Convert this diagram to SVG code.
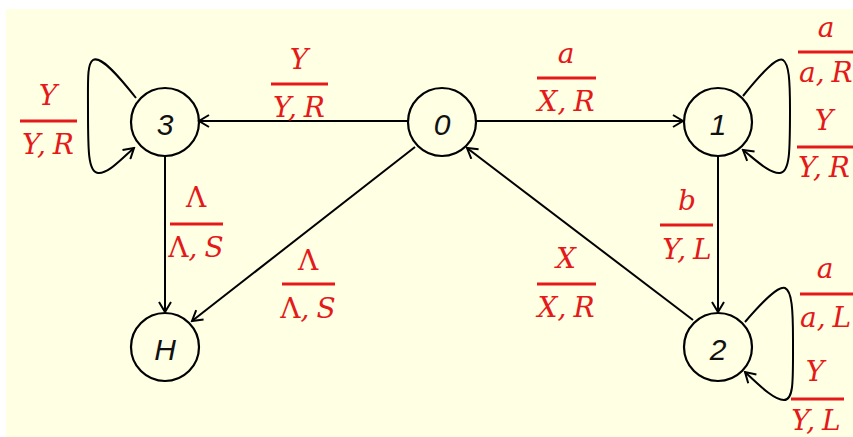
<svg xmlns="http://www.w3.org/2000/svg" width="853" height="437" viewBox="0 0 853 437">
<style>
.node circle{fill:none;stroke:#000;stroke-width:2.2}
.node text{font-family:"Liberation Sans",Arial,sans-serif;font-style:italic;font-size:30px;fill:#111;text-anchor:middle}
.edge{fill:none;stroke:#000;stroke-width:2;marker-end:url(#arr)}
.lbl text{font-family:"DejaVu Serif","Liberation Serif",serif;font-style:italic;font-size:28px;fill:#E41A1A;text-anchor:middle}
.lbl .st{text-anchor:start}
.lbl .up{font-style:normal}
.lbl line{stroke:#E41A1A;stroke-width:3}
</style>
<defs>
<marker id="arr" markerUnits="userSpaceOnUse" markerWidth="14" markerHeight="14" viewBox="-12 -7 14 14" refX="0" refY="0" orient="auto">
<path d="M-10,-6 L0,0 L-10,6" fill="none" stroke="#000" stroke-width="2"/>
</marker>
</defs>
<rect x="0" y="0" width="853" height="437" fill="#FFFFFF"/>
<rect x="6" y="9" width="847" height="428" fill="#FFFFE4"/>
<g id="connectors">
<path class="edge" d="M409,121 L199,121"/>
<path class="edge" d="M477,121 L683,121"/>
<path class="edge" d="M165,156 L165,312"/>
<path class="edge" d="M718,156 L718,312"/>
<path class="edge" d="M415,147 L192,321"/>
<path class="edge" d="M693,320 L467,148"/>
<path class="edge" d="M136,98 C114,70 100,56 93,60 C87,64 88,80 88,110 C88,150 88,172 98,173 C108,174 120,160 134,148"/>
<path class="edge" d="M743,96 C764,70 777,57 783,60 C789,64 790,80 790,110 C790,150 790,172 780,173 C770,174 757,161 743,150"/>
<path class="edge" d="M745,322 C764,300 778,286 785,288 C792,291 793,310 793,340 C793,380 794,400 784,400 C774,400 760,386 745,372"/>
</g>
<g id="node-3" class="node"><circle cx="165" cy="122" r="34"/><text x="165" y="135">3</text></g>
<g id="node-0" class="node"><circle cx="442" cy="122" r="34"/><text x="442" y="135">0</text></g>
<g id="node-1" class="node"><circle cx="718" cy="122" r="34"/><text x="718" y="135">1</text></g>
<g id="node-H" class="node"><circle cx="165" cy="347" r="34"/><text x="165" y="360">H</text></g>
<g id="node-2" class="node"><circle cx="718" cy="347" r="34"/><text x="718" y="360">2</text></g>
<g id="labels" class="lbl">
<text x="299" y="69">Y</text><line x1="271" y1="84" x2="328" y2="84"/><text x="299" y="117">Y,<tspan dx="7">R</tspan></text>
<text x="48" y="105">Y</text><line x1="20" y1="121" x2="77" y2="121"/><text x="48" y="154">Y,<tspan dx="7">R</tspan></text>
<text x="566" y="63">a</text><line x1="537" y1="78" x2="596" y2="78"/><text x="566" y="111">X,<tspan dx="7">R</tspan></text>
<text x="826" y="37">a</text><line x1="798" y1="52" x2="860" y2="52"/><text class="st" x="799" y="82">a,<tspan dx="7">R</tspan></text>
<text x="824" y="130">Y</text><line x1="797" y1="147" x2="860" y2="147"/><text class="st" x="798" y="177">Y,<tspan dx="7">R</tspan></text>
<text x="687" y="210">b</text><line x1="660" y1="225" x2="713" y2="225"/><text x="687" y="259">Y,<tspan dx="7">L</tspan></text>
<text class="up" x="196" y="207">Λ</text><line x1="170" y1="224" x2="223" y2="224"/><text x="196" y="257"><tspan class="up">Λ</tspan>,<tspan dx="7">S</tspan></text>
<text class="up" x="308" y="270">Λ</text><line x1="282" y1="284" x2="335" y2="284"/><text x="308" y="318"><tspan class="up">Λ</tspan>,<tspan dx="7">S</tspan></text>
<text x="566" y="268">X</text><line x1="537" y1="284" x2="596" y2="284"/><text x="566" y="317">X,<tspan dx="7">R</tspan></text>
<text x="825" y="278">a</text><line x1="800" y1="294" x2="860" y2="294"/><text class="st" x="800" y="327">a,<tspan dx="7">L</tspan></text>
<text x="815" y="381">Y</text><line x1="791" y1="399" x2="844" y2="399"/><text x="816" y="430">Y,<tspan dx="7">L</tspan></text>
</g>
</svg>
